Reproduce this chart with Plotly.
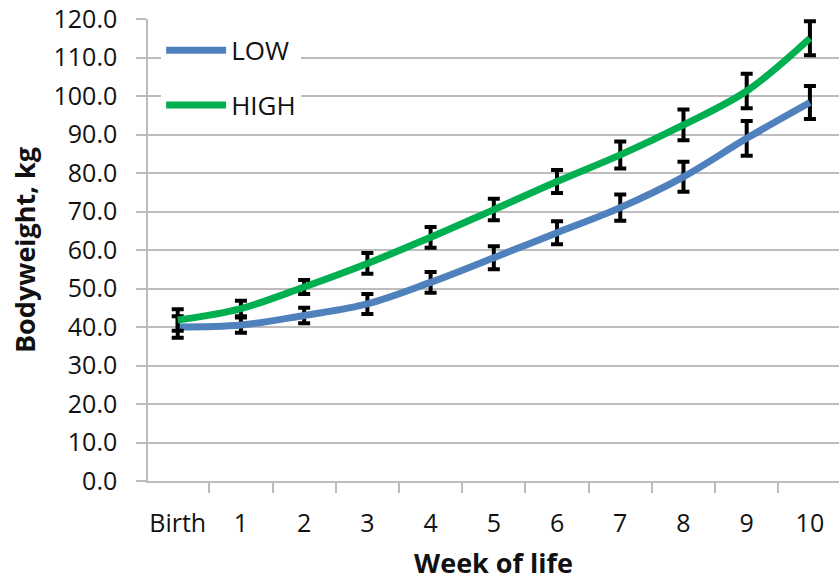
import plotly.graph_objects as go

weeks = ["Birth", "1", "2", "3", "4", "5", "6", "7", "8", "9", "10"]
low = [40.0, 40.5, 43.0, 46.0, 51.6, 58.0, 64.5, 71.0, 79.0, 89.0, 98.3]
low_err = [2.8, 2.0, 2.0, 2.6, 2.7, 3.0, 3.0, 3.4, 3.9, 4.5, 4.3]
high = [41.8, 44.8, 50.4, 56.5, 63.3, 70.5, 77.8, 84.7, 92.5, 101.3, 115.0]
high_err = [2.8, 2.0, 1.8, 2.7, 2.7, 2.8, 3.0, 3.5, 4.0, 4.5, 4.4]

FONT = "Open Sans"
GRID = "#bdbdbd"

fig = go.Figure()
fig.add_trace(go.Scatter(
    x=weeks, y=low, name="LOW", mode="lines", line=dict(color="#4f81bd", width=7, shape="spline"),
    error_y=dict(type="data", array=low_err, color="black", thickness=4, width=6),
    legendgroup="low",
))
fig.add_trace(go.Scatter(
    x=weeks, y=high, name="HIGH", mode="lines", line=dict(color="#00b050", width=7, shape="spline"),
    error_y=dict(type="data", array=high_err, color="black", thickness=4, width=6),
    legendgroup="high",
))

fig.update_layout(
    width=839, height=581,
    margin=dict(l=148, r=0, t=19, b=100),
    paper_bgcolor="white", plot_bgcolor="white",
    font=dict(family=FONT, size=25, color="#111111"),
    showlegend=True,
    legend=dict(
        x=0.019, y=0.983, xanchor="left", yanchor="top",
        bgcolor="white", font=dict(size=26, family=FONT, color="#111111"),
        itemwidth=60, tracegroupgap=18, traceorder="grouped",
    ),
    xaxis=dict(
        type="category", range=[-0.47, 10.46], automargin=False, tickangle=0,
        showgrid=False, showline=True, linecolor=GRID, linewidth=1.5,
        ticks="outside", tickson="boundaries", ticklen=10, tickcolor=GRID, tickwidth=1.5,
        ticklabelstandoff=19,
        title=dict(text="<b>Week of life</b>", font=dict(size=27, family=FONT), standoff=25),
    ),
    yaxis=dict(
        range=[0, 120], dtick=10, tickformat=".1f", automargin=False,
        showgrid=True, gridcolor=GRID, gridwidth=1.5,
        showline=True, linecolor=GRID, linewidth=1.5,
        ticks="outside", ticklen=10, tickcolor=GRID, tickwidth=1.5,
        ticklabelstandoff=14, zeroline=False,
        title=dict(text="<b>Bodyweight, kg</b>", font=dict(size=27, family=FONT), standoff=10),
    ),
)

fig.write_html("out.html")
